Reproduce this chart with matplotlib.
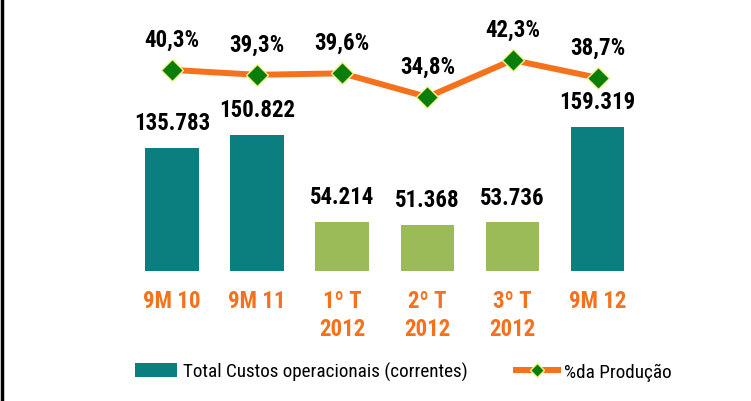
import matplotlib
matplotlib.use("Agg")
import matplotlib.pyplot as plt
from matplotlib.lines import Line2D
from matplotlib.patches import Patch

categories = ["9M 10", "9M 11", "1º T\n2012", "2º T\n2012", "3º T\n2012", "9M 12"]
custos = [135.783, 150.822, 54.214, 51.368, 53.736, 159.319]
custos_labels = ["135.783", "150.822", "54.214", "51.368", "53.736", "159.319"]
pct_producao = [40.3, 39.3, 39.6, 34.8, 42.3, 38.7]
pct_labels = ["40,3%", "39,3%", "39,6%", "34,8%", "42,3%", "38,7%"]

TEAL = "#0B7F7F"
GREEN = "#9BBB59"
ORANGE = "#F5711C"
bar_colors = [TEAL, TEAL, GREEN, GREEN, GREEN, TEAL]

plt.rcParams["font.family"] = ["Roboto Condensed", "Barlow Semi Condensed", "DejaVu Sans"]

fig = plt.figure(figsize=(7.51, 4.02), dpi=100)
ax = fig.add_axes([0.1156, 0.3234, 0.7936, 0.6517])

x = list(range(len(categories)))
ax.bar(x, custos, width=0.63, color=bar_colors, zorder=2)
ax.set_xlim(-1, 6)
ax.set_ylim(0, 290)

# rótulos acima das barras
for xi, v, lab in zip(x, custos, custos_labels):
    ax.annotate(lab, (xi, v), xytext=(0, 10), textcoords="offset points",
                ha="center", va="bottom", fontsize=16.5, fontweight="bold")

ax2 = ax.twinx()
ax2.set_ylim(-0.47, 52.64)
ax2.plot(x, pct_producao, color=ORANGE, lw=4.3, marker="D", markersize=11,
         markerfacecolor="#0A7D0A", markeredgecolor="#F4F48A", markeredgewidth=1.0,
         zorder=3)
for xi, v, lab in zip(x, pct_producao, pct_labels):
    ax2.annotate(lab, (xi, v), xytext=(0, 14), textcoords="offset points",
                 ha="center", va="bottom", fontsize=16.5, fontweight="bold")

for a in (ax, ax2):
    for s in a.spines.values():
        s.set_visible(False)
    a.set_yticks([])
ax.set_xticks(x)
ax.set_xticklabels(categories, fontsize=16.5, fontweight="bold", color=ORANGE,
                   linespacing=1.25, va="top")
ax.tick_params(axis="x", length=0, pad=13)

handles = [Patch(facecolor=TEAL, edgecolor="none"),
           Line2D([], [], color=ORANGE, lw=4.3, marker="D", markersize=7,
                  markerfacecolor="#0A7D0A", markeredgecolor="#F4F48A")]
fig.legend(handles, ["Total Custos operacionais (correntes)", "%da Produção"],
           loc="center", bbox_to_anchor=(0.537, 0.073), ncol=2, frameon=False,
           fontsize=13.8, handlelength=2.2, handleheight=0.75, handletextpad=0.3,
           columnspacing=2.5)

fig.add_artist(Line2D([0.002, 0.002], [0, 1], color="black", lw=2.5,
                      transform=fig.transFigure))

fig.savefig("out.png", dpi=100)
